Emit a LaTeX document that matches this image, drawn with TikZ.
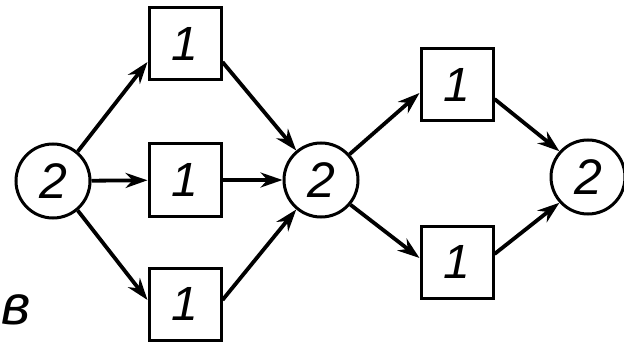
\documentclass[tikz,border=0pt]{standalone}
\usepackage{fontspec}
\setmainfont{Liberation Sans}
\usetikzlibrary{arrows.meta}
\begin{document}
\begin{tikzpicture}[x=1pt,y=-1pt,
  circ/.style={circle,draw,line width=3pt,minimum size=74pt,inner sep=0pt,font=\fontsize{50}{50}\selectfont\itshape},
  box/.style={rectangle,draw,line width=3pt,minimum width=72pt,minimum height=72pt,inner sep=0pt,font=\fontsize{48}{48}\selectfont\itshape},
  arr/.style={line width=3.8pt,-{Stealth[length=22pt,width=15pt]}}]
\useasboundingbox (0,0) rectangle (624,350);
\node[circ] (c1) at (53,181) {2};
\node[circ] (c2) at (321,180) {2};
\node[circ] (c3) at (588,177) {2};
\node[box] (b1) at (185,44) {1};
\node[box] (b2) at (185,180) {1};
\node[box] (b3) at (185,304) {1};
\node[box] (b4) at (457,85) {1};
\node[box] (b5) at (457,262) {1};
\node[font=\fontsize{56}{56}\selectfont\itshape,anchor=west,inner sep=0pt] (lab) at (1,310) {в};
\draw[arr] (c1.50) -- ([yshift=-18pt]b1.west);
\draw[arr] (c1) -- (b2);
\draw[arr] (c1.-50) -- ([yshift=4pt]b3.west);
\draw[arr] ([yshift=-18pt]b1.east) -- (c2.130);
\draw[arr] (b2) -- (c2);
\draw[arr] ([yshift=4pt]b3.east) -- (c2.-130);
\draw[arr] (c2.42) -- ([yshift=-8pt]b4.west);
\draw[arr] (c2.-40) -- ([yshift=4pt]b5.west);
\draw[arr] ([yshift=-14pt]b4.east) -- (c3.138);
\draw[arr] ([yshift=8pt]b5.east) -- (c3.-138);
\end{tikzpicture}
\end{document}
